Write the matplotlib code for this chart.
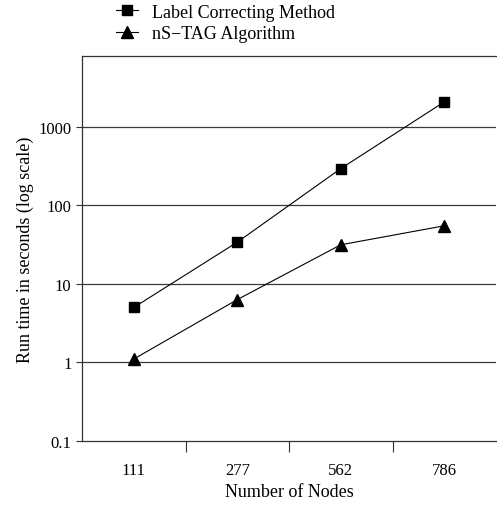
import matplotlib.pyplot as plt
import matplotlib.ticker as mticker

nodes = ['111', '277', '562', '786']
label_correcting = [5.0, 34, 295, 2090]
ns_tag = [1.1, 6.3, 31.5, 55]

plt.rcParams['font.family'] = ['Liberation Serif', 'DejaVu Serif']

fig = plt.figure(figsize=(4.97, 5.06), dpi=100)
ax = fig.add_axes([0.165, 0.127, 0.833, 0.760])

pos = [i + 0.5 for i in range(len(nodes))]
l1, = ax.plot(pos, label_correcting, color='black', lw=0.8, marker='s', markersize=6.5,
              label='Label Correcting Method')
l2, = ax.plot(pos, ns_tag, color='black', lw=0.8, marker='^', markersize=9,
              label='nS\u2212TAG Algorithm')

ax.set_yscale('log')
ax.set_ylim(0.1, 8000)
ax.set_xlim(0, len(nodes))
ax.set_yticks([0.1, 1, 10, 100, 1000])
ax.yaxis.set_major_formatter(mticker.FuncFormatter(lambda v, p: f'{v:g}'))
ax.yaxis.set_minor_locator(mticker.NullLocator())
for v in [1, 10, 100, 1000]:
    ax.axhline(v, color='#3a3a3a', lw=0.9, zorder=0)

# x ticks at bin boundaries, labels at bin centres
ax.set_xticks([1, 2, 3])
ax.set_xticklabels([])
ax.set_xticks(pos, minor=True)
ax.set_xticklabels(nodes, minor=True)
ax.tick_params(axis='x', which='major', length=8, color='#333333')
ax.tick_params(axis='x', which='minor', length=0, pad=15, labelsize=12)
ax.tick_params(axis='y', length=4, color='#333333', labelsize=12)

ax.spines['right'].set_visible(False)
for s in ['left', 'top', 'bottom']:
    ax.spines[s].set_color('#333333')
    ax.spines[s].set_linewidth(0.9)

ax.set_xlabel('Number of Nodes', fontsize=13, labelpad=4)
ax.set_ylabel('Run time in seconds (log scale)', fontsize=13, labelpad=3)

fig.legend(handles=[l1, l2], loc='upper left', bbox_to_anchor=(0.201, 1.023),
           frameon=False, fontsize=13, handlelength=1.2, labelspacing=0.25,
           handletextpad=0.8)

fig.savefig('out.png', dpi=100)
